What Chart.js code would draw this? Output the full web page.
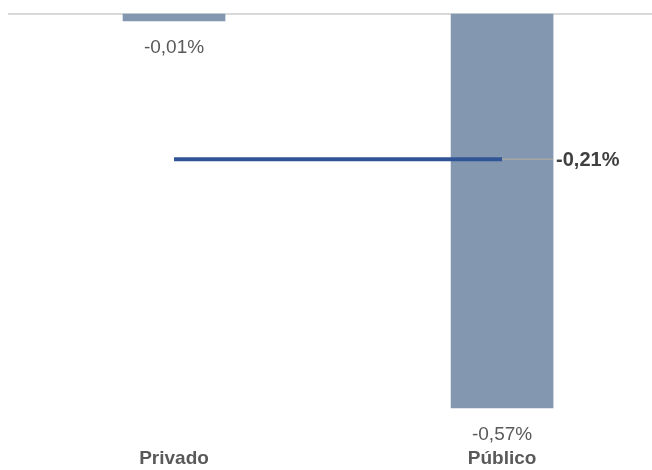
<!DOCTYPE html>
<html>
<head>
<meta charset="utf-8">
<script src="https://cdn.jsdelivr.net/npm/chart.js@4"></script>
<style>
  body { margin: 0; background: #fff; }
  #wrap { width: 652px; height: 470px; }
</style>
</head>
<body>
<div id="wrap"><canvas id="chart"></canvas></div>
<script>
// data
const categories = ['Privado', 'Público'];
const values = [-0.01, -0.57];
const averageValue = -0.21;

const fmt = v => v.toFixed(2).replace('.', ',') + '%';

// zero line, value labels and the average label
const labelsPlugin = {
    id: 'labelsPlugin',
    beforeDatasetsDraw(chart) {
        const { ctx, chartArea, scales } = chart;
        const y0 = scales.y.getPixelForValue(0);
        ctx.save();
        ctx.strokeStyle = '#d9d9d9';
        ctx.lineWidth = 2;
        ctx.beginPath();
        ctx.moveTo(chartArea.left - 2, y0);
        ctx.lineTo(chart.width, y0);
        ctx.stroke();
        ctx.restore();
    },
    afterDatasetsDraw(chart) {
        const { ctx, scales } = chart;
        const barMeta = chart.getDatasetMeta(1);
        ctx.save();
        ctx.fillStyle = '#595959';
        ctx.font = '19px "Liberation Sans"';
        ctx.textAlign = 'center';
        ctx.textBaseline = 'middle';
        barMeta.data.forEach((bar, i) => {
            ctx.fillText(fmt(values[i]), bar.x, bar.y + 27);
        });
        // grey tail of the average line up to the last bar's edge
        const last = barMeta.data[barMeta.data.length - 1];
        const ya = scales.y.getPixelForValue(averageValue);
        const xs = scales.x.getPixelForValue(categories.length - 1);
        const xe = last.x + last.width / 2;
        ctx.strokeStyle = '#a6a6a6';
        ctx.lineWidth = 1.5;
        ctx.beginPath();
        ctx.moveTo(xs, ya);
        ctx.lineTo(xe, ya);
        ctx.stroke();
        ctx.fillStyle = '#404040';
        ctx.font = 'bold 20px "Liberation Sans"';
        ctx.textAlign = 'left';
        ctx.fillText(fmt(averageValue), xe + 3, ya + 1);
        ctx.restore();
    }
};

const config = {
    data: {
        datasets: [
            {
                type: 'line',
                data: categories.map((c, i) => ({ x: i, y: averageValue })),
                borderColor: '#2f5597',
                borderWidth: 4,
                pointRadius: 0,
                order: 0,
            },
            {
                type: 'bar',
                data: values.map((v, i) => ({ x: i, y: v })),
                backgroundColor: '#8497b0',
                barThickness: 102,
                order: 1,
            },
        ],
    },
    options: {
        responsive: true,
        maintainAspectRatio: false,
        animation: false,
        layout: { padding: { left: 10, right: 0, top: 0, bottom: -8 } },
        plugins: {
            legend: { display: false },
            tooltip: { enabled: false },
        },
        scales: {
            x: {
                type: 'linear',
                offset: false,
                min: -0.5,
                max: 1.457,
                grid: { display: false, drawTicks: false },
                border: { display: false },
                afterBuildTicks: axis => {
                    axis.ticks = categories.map((c, i) => ({ value: i }));
                },
                ticks: {
                    autoSkip: false,
                    maxRotation: 0,
                    padding: 10,
                    color: '#595959',
                    font: { family: 'Liberation Sans', size: 19, weight: 'bold', lineHeight: 1 },
                    callback: v => categories[v],
                },
            },
            y: {
                display: false,
                min: -0.615,
                max: 0.0203,
            },
        },
    },
    plugins: [labelsPlugin],
};

let chart = new Chart(document.getElementById('chart'), config);
</script>
</body>
</html>
